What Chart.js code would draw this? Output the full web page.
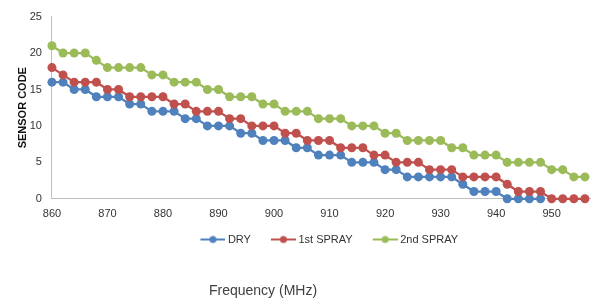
<!DOCTYPE html>
<html>
<head>
<meta charset="utf-8">
<script src="https://cdn.jsdelivr.net/npm/chart.js@4/dist/chart.umd.min.js"></script>
<style>
  body { margin: 0; background: #fff; }
  .box { position: relative; width: 595px; height: 299px; }
</style>
</head>
<body>
<div class="box"><canvas id="myChart"></canvas></div>
<script>
const freqs = [860, 862, 864, 866, 868, 870, 872, 874, 876, 878, 880, 882, 884, 886, 888, 890, 892,
    894, 896, 898, 900, 902, 904, 906, 908, 910, 912, 914, 916, 918, 920, 922, 924, 926, 928, 930,
    932, 934, 936, 938, 940, 942, 944, 946, 948, 950, 952, 954, 956];

const dry = [16, 16, 15, 15, 14, 14, 14, 13, 13, 12, 12, 12, 11, 11, 10, 10, 10, 9, 9, 8, 8, 8, 7, 7,
    6, 6, 6, 5, 5, 5, 4, 4, 3, 3, 3, 3, 3, 2, 1, 1, 1, 0, 0, 0, 0];
const spray1 = [18, 17, 16, 16, 16, 15, 15, 14, 14, 14, 14, 13, 13, 12, 12, 12, 11, 11, 10, 10, 10, 9, 9, 8,
    8, 8, 7, 7, 7, 6, 6, 5, 5, 5, 4, 4, 4, 3, 3, 3, 3, 2, 1, 1, 1, 0, 0, 0, 0];
const spray2 = [21, 20, 20, 20, 19, 18, 18, 18, 18, 17, 17, 16, 16, 16, 15, 15, 14, 14, 14, 13, 13, 12, 12, 12,
    11, 11, 11, 10, 10, 10, 9, 9, 8, 8, 8, 8, 7, 7, 6, 6, 6, 5, 5, 5, 5, 4, 4, 3, 3];

const seriesNames = ['DRY', '1st SPRAY', '2nd SPRAY'];
const colors = ['#4F81BD', '#C0504D', '#9BBB59'];

const FONT = "'Liberation Sans', Arial, sans-serif";

// legend marker: line with a dot, like excel
function makeMarker(color) {
    const c = document.createElement('canvas');
    c.width = 44;
    c.height = 10;
    const g = c.getContext('2d');
    g.strokeStyle = color;
    g.lineWidth = 2;
    g.beginPath();
    g.moveTo(19, 5);
    g.lineTo(44, 5);
    g.stroke();
    g.fillStyle = color;
    g.beginPath();
    g.arc(31.5, 5, 3.5, 0, Math.PI * 2);
    g.fill();
    return c;
}
const markers = colors.map(makeMarker);

const axisTitleBottom = {
    id: 'axisTitleBottom',
    afterDraw(chart) {
        const { ctx } = chart;
        ctx.save();
        ctx.font = '14px ' + FONT;
        ctx.fillStyle = '#404040';
        ctx.textAlign = 'center';
        ctx.textBaseline = 'middle';
        ctx.fillText('Frequency (MHz)', 263, 291);
        ctx.restore();
    }
};

const ds = [dry, spray1, spray2].map((arr, i) => ({
    label: seriesNames[i],
    data: arr,
    borderColor: colors[i],
    backgroundColor: colors[i],
    pointBackgroundColor: colors[i],
    pointBorderColor: colors[i],
    borderWidth: 2.25,
    pointRadius: 4.5,
    pointBorderWidth: 0,
    tension: 0,
    clip: false,
    order: 3 - i
}));

new Chart(document.getElementById('myChart'), {
    type: 'line',
    data: { labels: freqs, datasets: ds },
    options: {
        responsive: true,
        maintainAspectRatio: false,
        animation: false,
        layout: { padding: { top: 12, left: 10, right: 0, bottom: 44 } },
        plugins: {
            tooltip: { enabled: false },
            legend: {
                position: 'bottom',
                fullSize: false,
                labels: {
                    usePointStyle: true,
                    pointStyleWidth: 38,
                    padding: 4,
                    color: '#333',
                    font: { family: FONT, size: 11 },
                    generateLabels(chart) {
                        const items = Chart.defaults.plugins.legend.labels.generateLabels(chart);
                        items.forEach(it => { it.pointStyle = markers[it.datasetIndex]; });
                        return items.sort((a, b) => a.datasetIndex - b.datasetIndex);
                    }
                }
            }
        },
        scales: {
            x: {
                type: 'linear',
                min: 860,
                max: 957,
                grid: { display: false, drawTicks: false },
                border: { color: '#BFBFBF', width: 1 },
                afterBuildTicks: (s) => { s.ticks = s.ticks.filter(t => t.value % 10 === 0); },
                ticks: {
                    stepSize: 10,
                    padding: 9,
                    maxRotation: 0,
                    color: '#333',
                    font: { family: FONT, size: 11 }
                }
            },
            y: {
                min: 0,
                max: 25,
                grid: { display: false, drawTicks: false },
                border: { color: '#BFBFBF', width: 1 },
                ticks: {
                    stepSize: 5,
                    padding: 10,
                    color: '#333',
                    font: { family: FONT, size: 11 }
                },
                title: {
                    display: true,
                    text: 'SENSOR CODE',
                    color: '#111',
                    padding: { top: 6, bottom: -9.5 },
                    font: { family: FONT, size: 11, weight: 'bold' }
                }
            }
        }
    },
    plugins: [axisTitleBottom]
});
</script>
</body>
</html>
